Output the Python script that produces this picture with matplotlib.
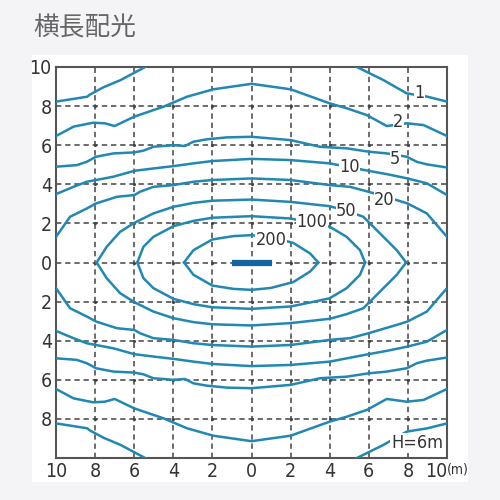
import matplotlib.pyplot as plt
from matplotlib.patches import Rectangle
from matplotlib import font_manager

# upper half of each isolux curve (lower half is the mirror image)
levels = ['1', '2', '5', '10', '20', '50', '100', '200']

curve_x = {
    '1': [[-10, -8.4, -8.3, -7.58, -6.7, -5.44], [5.39, 6.75, 7.94, 9.0, 10]],
    '2': [[-10, -9.1, -8.1, -7.5, -7.0, -6.0, -4.5, -3.3, -1.95, 0, 2.0, 4.0, 4.9, 5.9, 6.92, 7.94, 8.8, 10]],
    '5': [[-10, -8.94, -8.43, -7.95, -7.06, -6.0, -5.53, -5.02, -4.0, -3.4, -2.97, -2.29, -1.26, 0,
           2.0, 3.5, 4.0, 4.87, 5.98, 6.92, 7.94, 8.46, 8.97, 10]],
    '10': [[-10, -9.11, -8.43, -7.95, -7.06, -5.99, -5.02, -3.99, -2.97, -2.0, 0,
            2.0, 4.0, 5.98, 6.92, 7.98, 8.97, 10]],
    '20': [[-10, -9.28, -8.43, -7.95, -6.89, -5.99, -5.7, -5.02, -3.99, -2.97, -2.0, 0,
            2.0, 4.0, 5.04, 5.98, 7.43, 7.98, 8.97, 10]],
    '50': [[-7.92, -7.41, -6.72, -5.99, -5.02, -3.99, -2.97, -2.0, 0, 2.0, 4.0, 4.87, 5.72, 6.75, 7.43, 7.91]],
    '100': [[-5.84, -5.53, -5.02, -3.99, -2.97, -2.0, 0, 2.0, 3.08, 4.0, 4.87, 5.55, 5.81]],
    '200': [[-3.45, -2.97, -2.0, -0.92, 0, 1.0, 2.14, 3.0, 3.42]],
}
curve_y = {
    '1': [[8.23, 8.48, 8.57, 8.96, 9.33, 10], [10, 9.33, 8.65, 8.48, 8.23]],
    '2': [[6.47, 6.95, 7.15, 7.12, 6.98, 7.46, 7.97, 8.48, 8.86, 9.14, 8.86, 8.14, 7.88, 7.54, 6.98, 7.12, 7.03, 6.47]],
    '5': [[4.9, 4.98, 5.15, 5.41, 5.58, 5.63, 5.72, 5.92, 6.0, 5.96, 6.18, 6.3, 6.4, 6.43,
           6.26, 5.92, 5.89, 5.84, 5.67, 5.58, 5.41, 5.15, 5.02, 4.86]],
    '10': [[3.5, 3.87, 4.13, 4.22, 4.39, 4.69, 4.81, 4.93, 5.07, 5.19, 5.3,
            5.24, 5.07, 4.69, 4.52, 4.3, 4.05, 3.45]],
    '20': [[1.31, 2.34, 2.76, 3.02, 3.36, 3.45, 3.62, 3.87, 3.96, 4.13, 4.22, 4.3,
            4.22, 3.96, 3.87, 3.62, 3.19, 3.02, 2.51, 1.31]],
    '50': [[0, 0.8, 1.57, 2.03, 2.51, 2.85, 3.05, 3.16, 3.22, 3.1, 2.88, 2.64, 2.34, 1.31, 0.63, 0]],
    '100': [[0, 0.8, 1.31, 1.86, 2.13, 2.29, 2.37, 2.25, 2.03, 1.83, 1.31, 0.63, 0]],
    '200': [[0, 0.63, 1.18, 1.35, 1.4, 1.3, 1.0, 0.46, 0]],
}
label_x = [8.6, 7.5, 7.35, 5.0, 6.8, 4.85, 3.1, 1.0]
label_y = [8.65, 7.2, 5.3, 4.9, 3.2, 2.65, 2.05, 1.15]

ticks = [-10, -8, -6, -4, -2, 0, 2, 4, 6, 8, 10]
lamp_x = [-0.98, 1.03]

line_col = '#2188b2'

# narrow digits if a condensed face is available
names = {f.name for f in font_manager.fontManager.ttflist}
if 'Liberation Sans Narrow' in names:
    num_prop = dict(family='Liberation Sans Narrow')
else:
    num_prop = dict(family='DejaVu Sans', stretch='condensed')

fig = plt.figure(figsize=(5, 5), dpi=100)
fig.patch.set_facecolor('#f4f4f6')
fig.patches.append(Rectangle((0.064, 0.036), 0.872, 0.854, transform=fig.transFigure,
                             facecolor='white', edgecolor='none', zorder=-1))
fig.text(0.066, 0.944, '横長配光', fontsize=18.5, color='#666666',
         family=['Noto Sans CJK JP', 'DejaVu Sans'], va='center', ha='left')

ax = fig.add_axes([0.112, 0.084, 0.782, 0.782])
ax.set_xlim(-10, 10)
ax.set_ylim(-10, 10)

for lev in levels:
    for xs, ys in zip(curve_x[lev], curve_y[lev]):
        ax.plot(xs, ys, color=line_col, lw=1.8, zorder=3)
        ax.plot(xs, [-v for v in ys], color=line_col, lw=1.8, zorder=3)

for lev, lx, ly in zip(levels, label_x, label_y):
    ax.text(lx, ly, lev, fontsize=13, color='#333333', ha='center', va='center',
            zorder=4, bbox=dict(facecolor='white', edgecolor='none', pad=0.3), **num_prop)

ax.plot(lamp_x, [0, 0], color='#1565a0', lw=4.5, solid_capstyle='butt', zorder=5)

ax.set_xticks(ticks)
ax.set_yticks(ticks)
ax.set_xticklabels([str(abs(t)) for t in ticks], fontsize=14, color='#333333', **num_prop)
ax.set_yticklabels([str(abs(t)) if t > -10 else '' for t in ticks], fontsize=14,
                   color='#333333', **num_prop)
ax.tick_params(length=0, pad=3)
ax.grid(True, color='#444444', lw=1.1, linestyle=(0, (3.5, 2.5)), zorder=1)
ax.set_axisbelow(True)

# small dots where grid lines cross
inner = ticks[1:-1]
gx = [x for x in inner for _ in inner]
gy = [y for _ in inner for y in inner]
ax.scatter(gx, gy, s=5, color='#444444', zorder=1.5, linewidths=0)

for s in ax.spines.values():
    s.set_color('#555555')
    s.set_linewidth(1.5)

ax.text(9.8, -9.7, 'H=6m', fontsize=13, color='#333333', ha='right', va='bottom',
        zorder=4, bbox=dict(facecolor='white', edgecolor='none', pad=0.5), **num_prop)
ax.text(10.0, -10.25, '(m)', fontsize=10, color='#333333', ha='left', va='top',
        clip_on=False, **num_prop)
ax.get_xticklabels()[-1].set_ha('right')

fig.savefig('out.png', dpi=100, facecolor=fig.get_facecolor())
